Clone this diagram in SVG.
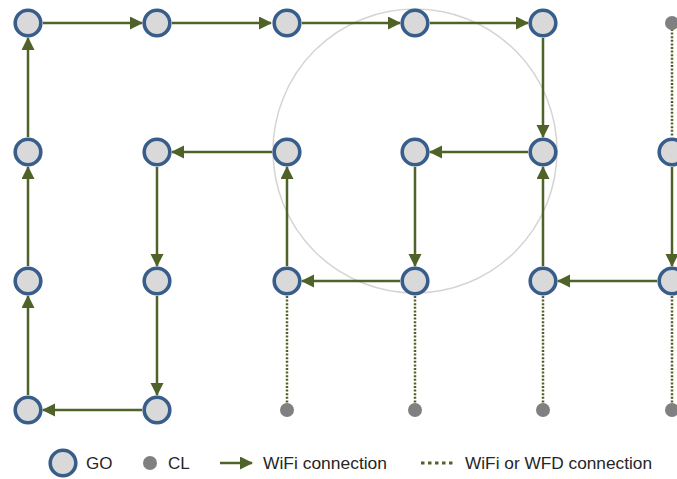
<svg xmlns="http://www.w3.org/2000/svg" width="677" height="479" viewBox="0 0 677 479">
<style>
.go{fill:#d9d9d9;stroke:#385d8a;stroke-width:3.6}
.cl{fill:#808080}
.w{stroke:#4f6228;stroke-width:2.5;fill:none;marker-end:url(#ah)}
.d{stroke:#4f6228;stroke-width:2.5;fill:none;stroke-dasharray:2 1.6}
.t{font-family:"Liberation Sans",Arial,sans-serif;font-size:17px;fill:#262626}
</style>
<defs>
<marker id="ah" markerUnits="userSpaceOnUse" markerWidth="14" markerHeight="14" refX="12" refY="6.5" orient="auto">
<path d="M0,0 L13,6.5 L0,13 z" fill="#4f6228"/>
</marker>
</defs>
<rect width="677" height="479" fill="#ffffff"/>
<circle cx="415" cy="151" r="142" fill="none" stroke="#d4d4d4" stroke-width="1.5"/>
<g id="connectors">
<line class="w" x1="28" y1="395" x2="28" y2="296"/>
<line class="w" x1="28" y1="266" x2="28" y2="167"/>
<line class="w" x1="28" y1="137" x2="28" y2="38"/>
<line class="w" x1="43" y1="23" x2="142" y2="23"/>
<line class="w" x1="172" y1="23" x2="271" y2="23"/>
<line class="w" x1="302" y1="23" x2="400" y2="23"/>
<line class="w" x1="430" y1="23" x2="528" y2="23"/>
<line class="w" x1="543" y1="38" x2="543" y2="137"/>
<line class="w" x1="528" y1="152" x2="430" y2="152"/>
<line class="w" x1="415" y1="167" x2="415" y2="266"/>
<line class="w" x1="400" y1="281" x2="302" y2="281"/>
<line class="w" x1="287" y1="266" x2="287" y2="167"/>
<line class="w" x1="272" y1="152" x2="172" y2="152"/>
<line class="w" x1="157" y1="167" x2="157" y2="266"/>
<line class="w" x1="157" y1="296" x2="157" y2="395"/>
<line class="w" x1="142" y1="410" x2="43" y2="410"/>
<line class="w" x1="657" y1="281" x2="558" y2="281"/>
<line class="w" x1="543" y1="266" x2="543" y2="167"/>
<line class="w" x1="672" y1="167" x2="672" y2="266"/>
<line class="d" x1="672" y1="29" x2="672" y2="137"/>
<line class="d" x1="287" y1="296" x2="287" y2="403"/>
<line class="d" x1="415" y1="296" x2="415" y2="403"/>
<line class="d" x1="543" y1="296" x2="543" y2="403"/>
<line class="d" x1="672" y1="296" x2="672" y2="403"/>
</g>
<g id="n-0-0"><circle class="go" cx="28" cy="23" r="12.8"/></g>
<g id="n-1-0"><circle class="go" cx="157" cy="23" r="12.8"/></g>
<g id="n-2-0"><circle class="go" cx="287" cy="23" r="12.8"/></g>
<g id="n-3-0"><circle class="go" cx="415" cy="23" r="12.8"/></g>
<g id="n-4-0"><circle class="go" cx="543" cy="23" r="12.8"/></g>
<g id="n-5-0"><circle class="cl" cx="672" cy="23" r="7"/></g>
<g id="n-0-1"><circle class="go" cx="28" cy="152" r="12.8"/></g>
<g id="n-1-1"><circle class="go" cx="157" cy="152" r="12.8"/></g>
<g id="n-2-1"><circle class="go" cx="287" cy="152" r="12.8"/></g>
<g id="n-3-1"><circle class="go" cx="415" cy="152" r="12.8"/></g>
<g id="n-4-1"><circle class="go" cx="543" cy="152" r="12.8"/></g>
<g id="n-5-1"><circle class="go" cx="672" cy="152" r="12.8"/></g>
<g id="n-0-2"><circle class="go" cx="28" cy="281" r="12.8"/></g>
<g id="n-1-2"><circle class="go" cx="157" cy="281" r="12.8"/></g>
<g id="n-2-2"><circle class="go" cx="287" cy="281" r="12.8"/></g>
<g id="n-3-2"><circle class="go" cx="415" cy="281" r="12.8"/></g>
<g id="n-4-2"><circle class="go" cx="543" cy="281" r="12.8"/></g>
<g id="n-5-2"><circle class="go" cx="672" cy="281" r="12.8"/></g>
<g id="n-0-3"><circle class="go" cx="28" cy="410" r="12.8"/></g>
<g id="n-1-3"><circle class="go" cx="157" cy="410" r="12.8"/></g>
<g id="n-2-3"><circle class="cl" cx="287" cy="410" r="7"/></g>
<g id="n-3-3"><circle class="cl" cx="415" cy="410" r="7"/></g>
<g id="n-4-3"><circle class="cl" cx="543" cy="410" r="7"/></g>
<g id="n-5-3"><circle class="cl" cx="672" cy="410" r="7"/></g>
<g id="legend">
<circle class="go" cx="63" cy="463" r="12.8"/>
<text class="t" x="86" y="469">GO</text>
<circle class="cl" cx="150" cy="463" r="7"/>
<text class="t" x="168" y="469">CL</text>
<line class="w" x1="220" y1="463" x2="252" y2="463"/>
<text class="t" x="263" y="469" textLength="124" lengthAdjust="spacingAndGlyphs">WiFi connection</text>
<line x1="421" y1="463" x2="456" y2="463" stroke="#4f6228" stroke-width="3" stroke-dasharray="3.5 3.5"/>
<text class="t" x="465" y="469" textLength="187" lengthAdjust="spacingAndGlyphs">WiFi or WFD connection</text>
</g>
</svg>
